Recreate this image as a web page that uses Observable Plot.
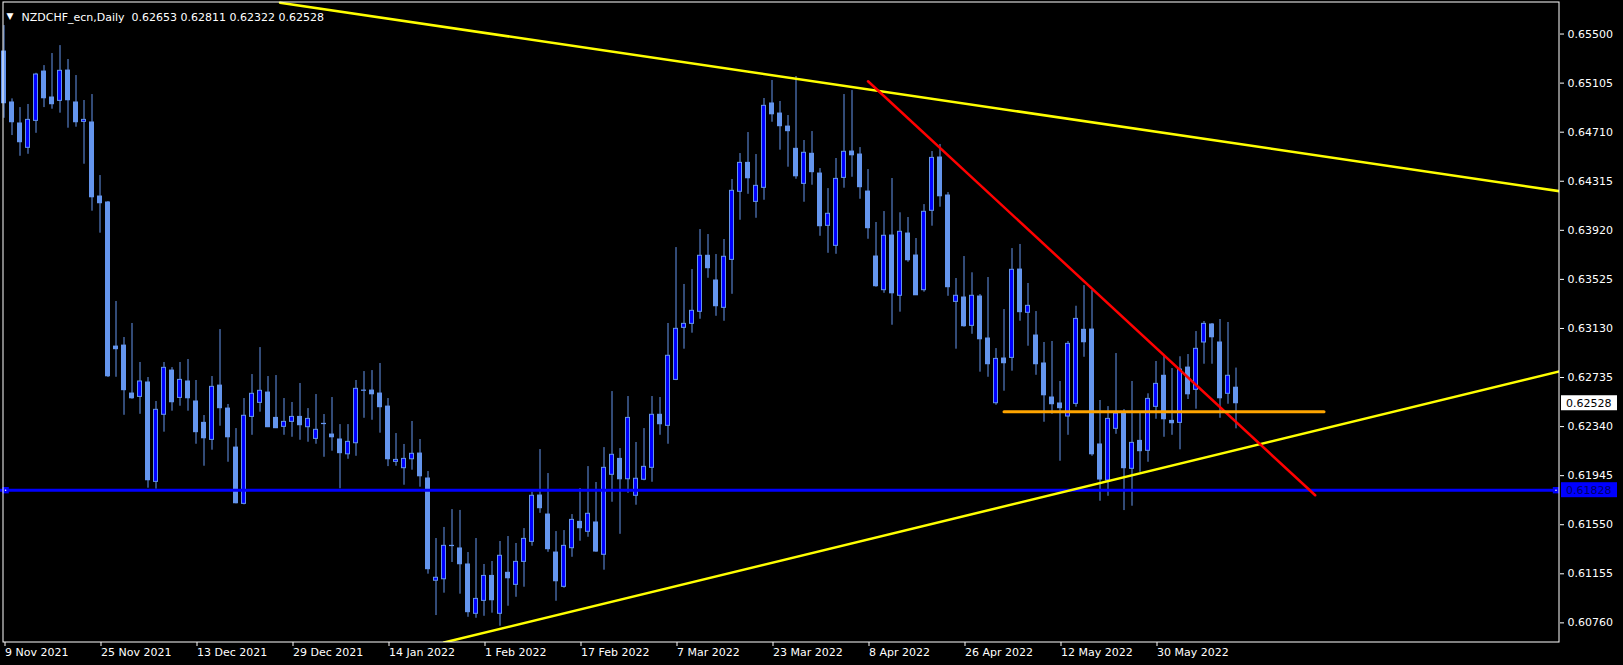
<!DOCTYPE html>
<html><head><meta charset="utf-8">
<script src="https://cdn.jsdelivr.net/npm/d3@7"></script>
<script src="https://cdn.jsdelivr.net/npm/@observablehq/plot@0.6"></script>
<style>
html,body{margin:0;padding:0;background:#000;overflow:hidden;}
#chart{width:1623px;height:665px;}
</style></head><body><div id="chart"></div>
<script>
const symbolTitle = "NZDCHF_ecn,Daily  0.62653 0.62811 0.62322 0.62528";
const tickIdx = [0,12,24,36,48,60,72,84,96,108,120,132,144];
const tickLabels = ["9 Nov 2021","25 Nov 2021","13 Dec 2021","29 Dec 2021","14 Jan 2022","1 Feb 2022","17 Feb 2022","7 Mar 2022","23 Mar 2022","8 Apr 2022","26 Apr 2022","12 May 2022","30 May 2022"];
const priceTicks = [0.65500,0.65105,0.64710,0.64315,0.63920,0.63525,0.63130,0.62735,0.62340,0.61945,0.61550,0.61155,0.60760];

const open = [0.65359,0.64949,0.64780,0.64584,0.64801,0.65198,0.64989,0.64962,0.65206,0.64949,
0.64793,0.64788,0.64192,0.64144,0.62984,0.62992,0.62606,0.62579,0.62695,0.61895,
0.62435,0.62791,0.62571,0.62703,0.62542,0.62370,0.62233,0.62670,0.62485,0.62171,
0.61718,0.62418,0.62531,0.62614,0.62410,0.62338,0.62378,0.62418,0.62335,0.62241,
0.62362,0.62276,0.62236,0.62117,0.62206,0.62628,0.62630,0.62606,0.62501,0.62056,
0.62005,0.62077,0.62123,0.61922,0.61099,0.61111,0.61380,0.61359,0.61230,0.60833,
0.60937,0.61138,0.60833,0.61163,0.61066,0.61251,0.61412,0.61785,0.61632,0.61326,
0.61050,0.61361,0.61573,0.61493,0.61568,0.61308,0.61952,0.62080,0.61916,0.61783,
0.61912,0.62008,0.62435,0.62346,0.62716,0.63135,0.63167,0.63264,0.63715,0.63516,
0.63296,0.63682,0.64230,0.64463,0.64149,0.64262,0.64941,0.64860,0.64755,0.64576,
0.64294,0.64536,0.64377,0.63956,0.63795,0.64342,0.64554,0.64530,0.64232,0.63709,
0.63438,0.63878,0.63393,0.63894,0.63717,0.63438,0.64077,0.64506,0.64200,0.63344,
0.63379,0.63151,0.63387,0.63049,0.62528,0.62888,0.62893,0.63604,0.63256,0.63073,
0.62848,0.62574,0.62526,0.62421,0.62523,0.63119,0.63121,0.62196,0.61906,0.62322,
0.62445,0.62000,0.62225,0.62145,0.62499,0.62749,0.62386,0.62370,0.62815,0.62636,
0.63017,0.63162,0.63017,0.62604,0.62653];
const high = [0.65568,0.64978,0.64908,0.64933,0.65184,0.65246,0.65343,0.65407,0.65295,0.65166,
0.64965,0.65013,0.64361,0.64152,0.63347,0.63057,0.63170,0.62856,0.62735,0.62542,
0.62856,0.62815,0.62856,0.62880,0.62711,0.62429,0.62743,0.63121,0.62518,0.62324,
0.62566,0.62759,0.62976,0.62743,0.62751,0.62566,0.62534,0.62687,0.62485,0.62598,
0.62437,0.62574,0.62356,0.62356,0.62711,0.62783,0.62791,0.62848,0.62566,0.62284,
0.62196,0.62381,0.62236,0.61978,0.61439,0.61528,0.61672,0.61665,0.61326,0.61439,
0.61230,0.61254,0.61415,0.61455,0.61399,0.61519,0.61812,0.62155,0.61962,0.61495,
0.61503,0.61632,0.61841,0.62018,0.61890,0.62171,0.62622,0.62163,0.62582,0.62212,
0.62324,0.62582,0.62574,0.63170,0.63781,0.63484,0.63604,0.63926,0.63886,0.63725,
0.63846,0.64329,0.64538,0.64707,0.64530,0.64981,0.65126,0.64957,0.64844,0.65158,
0.64643,0.64715,0.64417,0.64256,0.64498,0.65013,0.65045,0.64586,0.64409,0.63983,
0.64071,0.64337,0.64061,0.64023,0.63854,0.64127,0.64554,0.64611,0.64224,0.63532,
0.63709,0.63578,0.63403,0.63540,0.62968,0.63282,0.63773,0.63806,0.63492,0.63266,
0.63017,0.63025,0.62703,0.63025,0.63309,0.63475,0.63435,0.62550,0.62501,0.62928,
0.62477,0.62703,0.62451,0.62604,0.62864,0.62904,0.62807,0.62902,0.62920,0.63105,
0.63186,0.63170,0.63202,0.63178,0.62811];
const low = [0.64822,0.64683,0.64516,0.64532,0.64701,0.64908,0.64895,0.64863,0.64742,0.64750,
0.64452,0.64074,0.63897,0.62735,0.62737,0.62431,0.62560,0.62439,0.61844,0.61836,
0.62295,0.62464,0.62504,0.62464,0.62198,0.62021,0.62150,0.62343,0.62053,0.61718,
0.61710,0.62270,0.62456,0.62332,0.62324,0.62270,0.62254,0.62230,0.62214,0.62198,
0.62093,0.62142,0.61839,0.62077,0.62101,0.62407,0.62391,0.62287,0.62018,0.62021,
0.61868,0.61989,0.61852,0.61152,0.60819,0.60999,0.61246,0.60991,0.60805,0.60797,
0.60813,0.60838,0.60733,0.60894,0.60966,0.61047,0.61377,0.61642,0.61328,0.60934,
0.61039,0.61288,0.61417,0.61449,0.61328,0.61184,0.61731,0.61473,0.61803,0.61707,
0.61904,0.61892,0.62270,0.62198,0.62710,0.62963,0.63092,0.63204,0.63534,0.63228,
0.63188,0.63405,0.64001,0.64210,0.64017,0.64162,0.64790,0.64565,0.64428,0.64331,
0.64146,0.64283,0.63872,0.63735,0.63727,0.64259,0.64347,0.64170,0.63848,0.63462,
0.63413,0.63156,0.63261,0.63663,0.63395,0.63422,0.63953,0.64106,0.63389,0.62963,
0.63140,0.63083,0.62778,0.62737,0.62512,0.62625,0.62786,0.63188,0.62987,0.62753,
0.62375,0.62439,0.62061,0.62270,0.62496,0.62898,0.62101,0.61739,0.61779,0.62278,
0.61664,0.61699,0.61972,0.62053,0.62399,0.62254,0.62270,0.62153,0.62558,0.62480,
0.62842,0.62842,0.62407,0.62520,0.62322];
const close = [0.64943,0.64790,0.64629,0.64809,0.65174,0.64983,0.64935,0.65204,0.64967,0.64790,
0.64809,0.64186,0.64138,0.62745,0.62963,0.62633,0.62568,0.62703,0.61908,0.62475,
0.62813,0.62536,0.62716,0.62568,0.62295,0.62246,0.62660,0.62488,0.62254,0.61723,
0.62427,0.62604,0.62628,0.62335,0.62327,0.62378,0.62418,0.62351,0.62402,0.62314,
0.62360,0.62254,0.62126,0.62217,0.62644,0.62630,0.62600,0.62496,0.62077,0.62072,
0.62080,0.62121,0.61940,0.61192,0.61123,0.61380,0.61378,0.61232,0.60846,0.60953,
0.61138,0.60942,0.61300,0.61119,0.61251,0.61436,0.61783,0.61683,0.61353,0.61095,
0.61380,0.61589,0.61522,0.61638,0.61334,0.62008,0.62113,0.61916,0.62410,0.61920,
0.62016,0.62435,0.62359,0.62910,0.63127,0.63167,0.63272,0.63715,0.63615,0.63309,
0.63707,0.64238,0.64463,0.64339,0.64278,0.64922,0.64854,0.64758,0.64718,0.64355,
0.64544,0.64388,0.63953,0.64053,0.64334,0.64552,0.64524,0.64267,0.63937,0.63470,
0.63876,0.63413,0.63908,0.63679,0.63397,0.64069,0.64503,0.64194,0.63462,0.63393,
0.63148,0.63393,0.63043,0.62842,0.62885,0.62850,0.63602,0.63261,0.63312,0.62842,
0.62592,0.62520,0.62488,0.63006,0.63207,0.63019,0.62117,0.61914,0.62402,0.62445,
0.62005,0.62209,0.62142,0.62563,0.62684,0.62399,0.62367,0.62799,0.62600,0.62966,
0.63167,0.63059,0.62568,0.62749,0.62528];

// drawn objects (bar index, price)
const upperTrend = [{i: 34.5, p: 0.65752}, {i: 194.4375, p: 0.64235}];
const lowerTrend = [{i: 55, p: 0.60602}, {i: 194.4375, p: 0.62784}];
const redTrend = [{i: 108, p: 0.65120}, {i: 163.9, p: 0.61787}];
const orangeLevel = [{i: 125, p: 0.62459}, {i: 165, p: 0.62459}];
const blueLevel = 0.61828;
const blueHandles = [0.2, 194.0];
const lastPrice = 0.62528;

const bars = open.map((o, i) => ({i, o, h: high[i], l: low[i], c: close[i], bull: close[i] > o}));
const bulls = bars.filter(d => d.bull);
const bears = bars.filter(d => !d.bull);
const labelMap = new Map(tickIdx.map((t, k) => [t, tickLabels[k]]));
const fmt = d3.format(".5f");

const plot = Plot.plot({
  width: 1623, height: 665,
  marginLeft: 0, marginRight: 64, marginTop: 0, marginBottom: 23,
  style: {background: "#000", color: "#fff", fontFamily: "DejaVu Sans", fontSize: "11px", overflow: "visible"},
  x: {type: "linear", domain: [-0.4375, 194.4375]},
  y: {type: "linear", domain: [0.60602, 0.65770]},
  marks: [
    Plot.ruleX(bars, {x: "i", y1: "l", y2: "h", stroke: "#6495ED", strokeWidth: 1}),
    Plot.rect(bears, {x1: d => d.i - 0.3125, x2: d => d.i + 0.3125, y1: "o", y2: "c",
      fill: "#6495ED", insetTop: -0.5, insetBottom: -0.5}),
    Plot.rect(bulls, {x1: d => d.i - 0.3125, x2: d => d.i + 0.3125, y1: "o", y2: "c",
      fill: "#0000FF", stroke: "#6495ED", strokeWidth: 1, insetLeft: 0.5, insetRight: 0.5}),
    Plot.ruleY([blueLevel], {stroke: "#0000FF", strokeWidth: 3}),
    Plot.line(upperTrend, {x: "i", y: "p", stroke: "#FFFF00", strokeWidth: 2.5, clip: true}),
    Plot.line(lowerTrend, {x: "i", y: "p", stroke: "#FFFF00", strokeWidth: 2.5, clip: true}),
    Plot.line(redTrend, {x: "i", y: "p", stroke: "#FF0000", strokeWidth: 2.5, clip: true}),
    Plot.line(orangeLevel, {x: "i", y: "p", stroke: "#FFA500", strokeWidth: 3}),
    Plot.dot(blueHandles, {x: d => d, y: () => blueLevel, symbol: "square", r: 3.6, fill: "#0000FF"}),
    Plot.dot(blueHandles, {x: d => d, y: () => blueLevel, r: 0.8, fill: "#fff"}),
    Plot.frame({stroke: "#fff", insetLeft: 2.5, insetTop: 1.5, insetRight: 0.5, insetBottom: 0.5}),
    Plot.axisY({anchor: "right", ticks: priceTicks, tickFormat: fmt, tickSize: 4, tickPadding: 4, fontSize: 11, label: null}),
    Plot.axisX({ticks: tickIdx, tickFormat: d => labelMap.get(d), tickSize: 4, tickPadding: 2, textAnchor: "start", dx: 1, fontSize: 11, label: null}),
    Plot.text(["\u25BC"], {frameAnchor: "top-left", dx: 6, dy: 12, fontSize: 9, textAnchor: "start", fill: "#fff"}),
    Plot.text([symbolTitle], {frameAnchor: "top-left", dx: 21, dy: 12.5, fontSize: 11, textAnchor: "start", fill: "#fff"})
  ]
});

document.getElementById("chart").appendChild(plot);

// price marker boxes on the right axis, placed through the plot's y scale
const ys = plot.scale("y");
const svg = d3.select(plot);
const boxes = [
  {v: lastPrice, fill: "#fff", text: "#000"},
  {v: blueLevel, fill: "#0000FF", text: "#000066"}
];
const g = svg.append("g").attr("text-anchor", "start");
for (const b of boxes) {
  const yy = ys.apply(b.v);
  g.append("rect").attr("x", 1561).attr("y", yy - 7.5).attr("width", 56).attr("height", 15).attr("fill", b.fill);
  g.append("text").attr("x", 1566).attr("y", yy).attr("dy", "0.35em").attr("text-anchor", "start")
    .attr("font-family", "DejaVu Sans").attr("font-size", 11).attr("fill", b.text).text(fmt(b.v));
}
</script>
</body></html>
